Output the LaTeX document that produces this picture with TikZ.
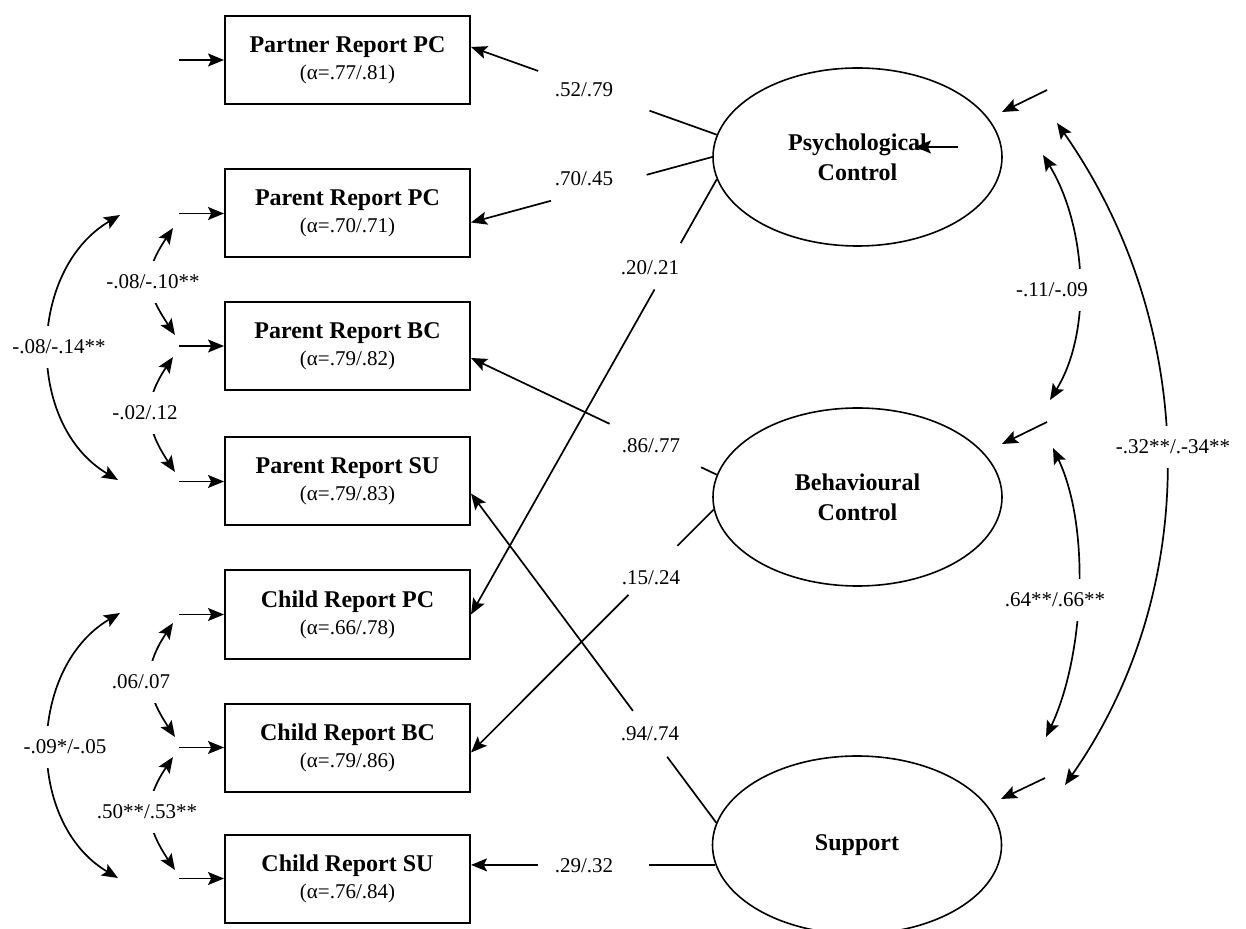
\documentclass[tikz,border=0pt]{standalone}
\usepackage{fontspec}
\setmainfont{Liberation Serif}
\usetikzlibrary{arrows.meta,calc,shapes.geometric}
\newcommand\obsttl[1]{{\fontsize{12}{13.5}\selectfont\bfseries #1}}
\begin{document}
\begin{tikzpicture}[x=0.5pt,y=-0.5pt,
  arr/.style={-{Stealth[length=8pt,width=6.5pt,inset=1.6pt]}, line width=0.85pt},
  darr/.style={{Stealth[length=8pt,width=6.5pt,inset=1.6pt]}-{Stealth[length=8pt,width=6.5pt,inset=1.6pt]}, line width=0.85pt},
  obs/.style={draw, line width=1pt, rectangle, minimum width=122.5pt, minimum height=44pt, inner sep=0pt, align=center, font=\fontsize{10.5}{13.5}\selectfont},
  lat/.style={draw, line width=0.8pt, ellipse, minimum width=144.5pt, minimum height=89pt, inner sep=0pt, align=center, font=\fontsize{12}{15}\selectfont\bfseries},
  lab/.style={font=\fontsize{10.5}{12}\selectfont, inner sep=1pt},
  clab/.style={lab, fill=white, inner xsep=1pt, inner ysep=7pt},
  linegap/.style={sloped, fill=white, inner sep=0pt, minimum height=3pt, minimum width=#1},
]
\useasboundingbox (0,0) rectangle (1246,929);
\clip (0,0) rectangle (1246,929);

% observed indicators
\node[obs] (p1) at (347.5,60)   {\obsttl{Partner Report PC}\\(α=.77/.81)};
\node[obs] (p2) at (347.5,213.5){\obsttl{Parent Report PC}\\(α=.70/.71)};
\node[obs] (p3) at (347.5,346)  {\obsttl{Parent Report BC}\\(α=.79/.82)};
\node[obs] (p4) at (347.5,481.5){\obsttl{Parent Report SU}\\(α=.79/.83)};
\node[obs] (p5) at (347.5,614.5){\obsttl{Child Report PC}\\(α=.66/.78)};
\node[obs] (p6) at (347.5,747.5){\obsttl{Child Report BC}\\(α=.79/.86)};
\node[obs] (p7) at (347.5,878.5){\obsttl{Child Report SU}\\(α=.76/.84)};

% latent factors
\node[lat] (pc) at (857.5,157) {Psychological\\Control};
\node[lat] (bc) at (857.5,497) {Behavioural\\Control};
\node[lat] (su) at (857,845)   {Support};

% error arrows on indicators
\foreach \b in {p1,p2,p3,p4,p5,p6,p7}
  \draw[arr] ([xshift=-22.5pt]\b.west) -- (\b.west);

% loadings
\draw[arr] (pc.171) -- node[linegap=59pt, pos=0.5]{} ([yshift=6.5pt]p1.east);
\draw[arr] (pc.west) -- node[linegap=49.5pt, pos=0.47]{} ([yshift=-4.5pt]p2.east);
\draw[arr] (pc.189) -- node[linegap=26.5pt, pos=0.2]{} (p5.east);
\draw[arr] (bc.171) -- node[linegap=50.5pt, pos=0.25]{} ([yshift=-6pt]p3.east);
\draw[arr] (bc.185) -- node[linegap=34.5pt, pos=0.25]{} ([yshift=-2.5pt]p6.east);
\draw[arr] (su.171) -- node[linegap=28.5pt, pos=0.27]{} ([yshift=-6pt]p4.east);
\draw[arr] (su.188) -- node[linegap=55.5pt, pos=0.5]{} (su.188 -| p7.east);

\node[lab] (l1) at (584,90)  {.52/.79};
\node[lab] (l2) at (584,179) {.70/.45};
\node[lab] (l3) at (650,268) {.20/.21};
\node[lab] (l4) at (651,446) {.86/.77};
\node[lab] (l5) at (651,578) {.15/.24};
\node[lab] (l6) at (650,734) {.94/.74};
\node[lab] (l7) at (584,866) {.29/.32};

% disturbance arrows on latent factors
\coordinate (d1s) at (1047,90);  \coordinate (d1t) at (1002,112);
\coordinate (d2s) at (1047,422); \coordinate (d2t) at (1002,444);
\coordinate (d3s) at (1045,778); \coordinate (d3t) at (1001,799);
\coordinate (d4s) at (958,147);  \coordinate (d4t) at (915,147);
\draw[arr] (d1s) -- (d1t);
\draw[arr] (d2s) -- (d2t);
\draw[arr] (d3s) -- (d3t);
\draw[arr] (d4s) -- (d4t);

% covariances between factors
\coordinate (r1a) at (1043,155); \coordinate (r1b) at (1050,400);
\coordinate (r2a) at (1053,448); \coordinate (r2b) at (1046,737);
\coordinate (r3a) at (1057,123); \coordinate (r3b) at (1065,785);
\draw[darr] (r1a) .. controls +(43,70) and +(43,-70) .. (r1b);
\draw[darr] (r2a) .. controls +(38,80) and +(38,-80) .. (r2b);
\draw[darr] (r3a) .. controls +(140,200) and +(140,-200) .. (r3b);
\node[clab] (c1) at (1052,290)  {-.11/-.09};
\node[clab] (c2) at (1055,600)  {.64**/.66**};
\node[clab] (c3) at (1173,447)  {-.32**/.-34**};

% covariances between error terms
\coordinate (a1) at (173,228); \coordinate (a2) at (175,335);
\coordinate (a3) at (173,357); \coordinate (a4) at (175,472);
\coordinate (a5) at (120,215); \coordinate (a6) at (118,480);
\coordinate (b1) at (173,623); \coordinate (b2) at (175,737);
\coordinate (b3) at (173,757); \coordinate (b4) at (175,870);
\coordinate (b5) at (120,613); \coordinate (b6) at (118,878);
\draw[darr] (a1) .. controls +(-30,45) and +(-30,-45) .. (a2);
\draw[darr] (a3) .. controls +(-30,45) and +(-30,-45) .. (a4);
\draw[darr] (a5) .. controls +(-93,55) and +(-93,-55) .. (a6);
\draw[darr] (b1) .. controls +(-30,45) and +(-30,-45) .. (b2);
\draw[darr] (b3) .. controls +(-30,45) and +(-30,-45) .. (b4);
\draw[darr] (b5) .. controls +(-93,55) and +(-93,-55) .. (b6);
\node[clab] (k1) at (153,282) {-.08/-.10**};
\node[clab] (k2) at (145,413) {-.02/.12};
\node[clab] (k3) at (59,347)  {-.08/-.14**};
\node[clab] (k4) at (141,682) {.06/.07};
\node[clab] (k5) at (147,812) {.50**/.53**};
\node[clab] (k6) at (65,747)  {-.09*/-.05};
\end{tikzpicture}
\end{document}
